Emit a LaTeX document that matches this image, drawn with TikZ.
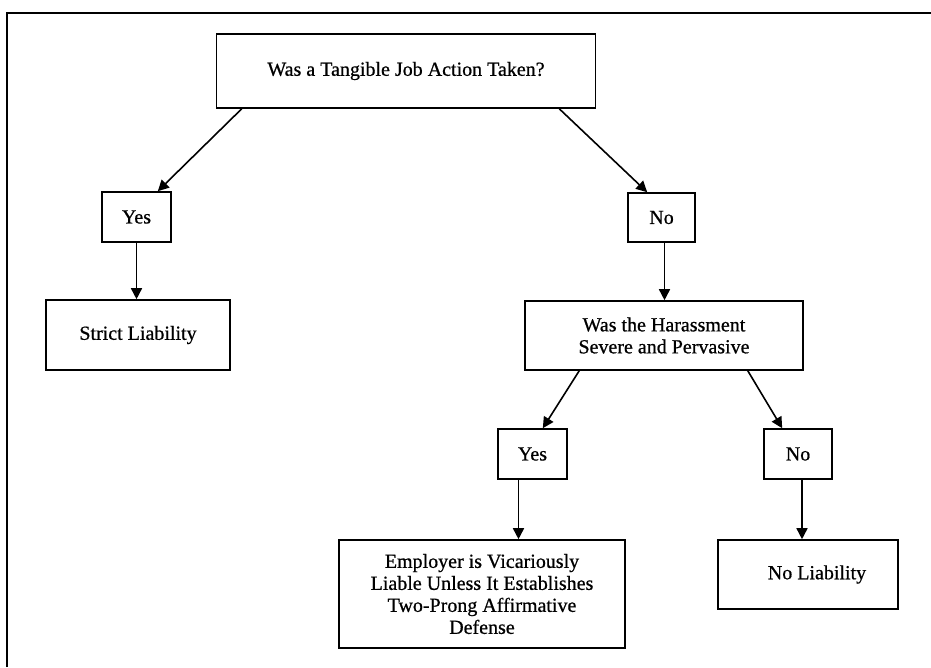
\documentclass[tikz,border=0pt]{standalone}
\usepackage{fontspec}
\setmainfont{Liberation Serif}[FakeBold=0.7]
\usetikzlibrary{arrows.meta,positioning}

\begin{document}
\begin{tikzpicture}[x=1pt,y=-1pt,node distance=2cm,on grid,line width=1.6pt,
    box/.style={draw,line width=1.6pt,inner sep=0pt,align=center,
      font=\fontsize{20}{22}\selectfont},
    >={Triangle[width=11pt,length=11pt]}]
  \useasboundingbox (0,0) rectangle (931,667);
  \coordinate (fr_b) at (7,667);
  \coordinate (fr_r) at (931,13);
  \draw[line width=2pt] (fr_b) |- (fr_r);

  \node[box,minimum width=379pt,minimum height=74pt] (tja) at (406,71) {Was a Tangible Job Action Taken?};
  \node[box,minimum width=69pt,minimum height=50pt] [below left=146pt and 269.5pt of tja] (yes_1) {Yes};
  \node[box,minimum width=184pt,minimum height=70pt] [below right=118pt and 1.5pt of yes_1] (strict) {Strict Liability};
  \node[box,minimum width=67pt,minimum height=49pt] [below right=146.5pt and 255.5pt of tja] (no_1) {No};
  \node[box,minimum width=278pt,minimum height=69pt] [below right=118pt and 2.5pt of no_1] (sev) {Was the Harassment\\Severe and Pervasive};
  \node[box,minimum width=69pt,minimum height=50pt] [below left=118.5pt and 131.5pt of sev] (yes_2) {Yes};
  \node[box,minimum width=68pt,minimum height=50pt] [below right=118.5pt and 134pt of sev] (no_2) {No};
  \node[box,minimum width=286pt,minimum height=108pt] [below left=140pt and 50.5pt of yes_2] (vic) {Employer is Vicariously\\Liable Unless It Establishes\\Two-Prong Affirmative\\Defense};
  \node[box,minimum width=180pt,minimum height=69pt] [below right=120.5pt and 10pt of no_2] (noliab) {\hspace*{18pt}No Liability};

  \path[->]
    ([xshift=26pt]tja.south west) edge ([xshift=-14pt]yes_1.north east)
    ([xshift=-37pt]tja.south east) edge ([xshift=20pt]no_1.north west)
    (yes_1.south) edge (yes_1.south |- strict.north)
    ([xshift=3pt]no_1.south) edge ([xshift=3pt]no_1.south |- sev.north)
    ([xshift=55pt]sev.south west) edge ([xshift=-25pt]yes_2.north east)
    ([xshift=-56pt]sev.south east) edge ([xshift=19pt]no_2.north west)
    ([xshift=-14pt]yes_2.south) edge ([xshift=-14pt]yes_2.south |- vic.north)
    ([xshift=4pt]no_2.south) edge ([xshift=4pt]no_2.south |- noliab.north);
\end{tikzpicture}
\end{document}
